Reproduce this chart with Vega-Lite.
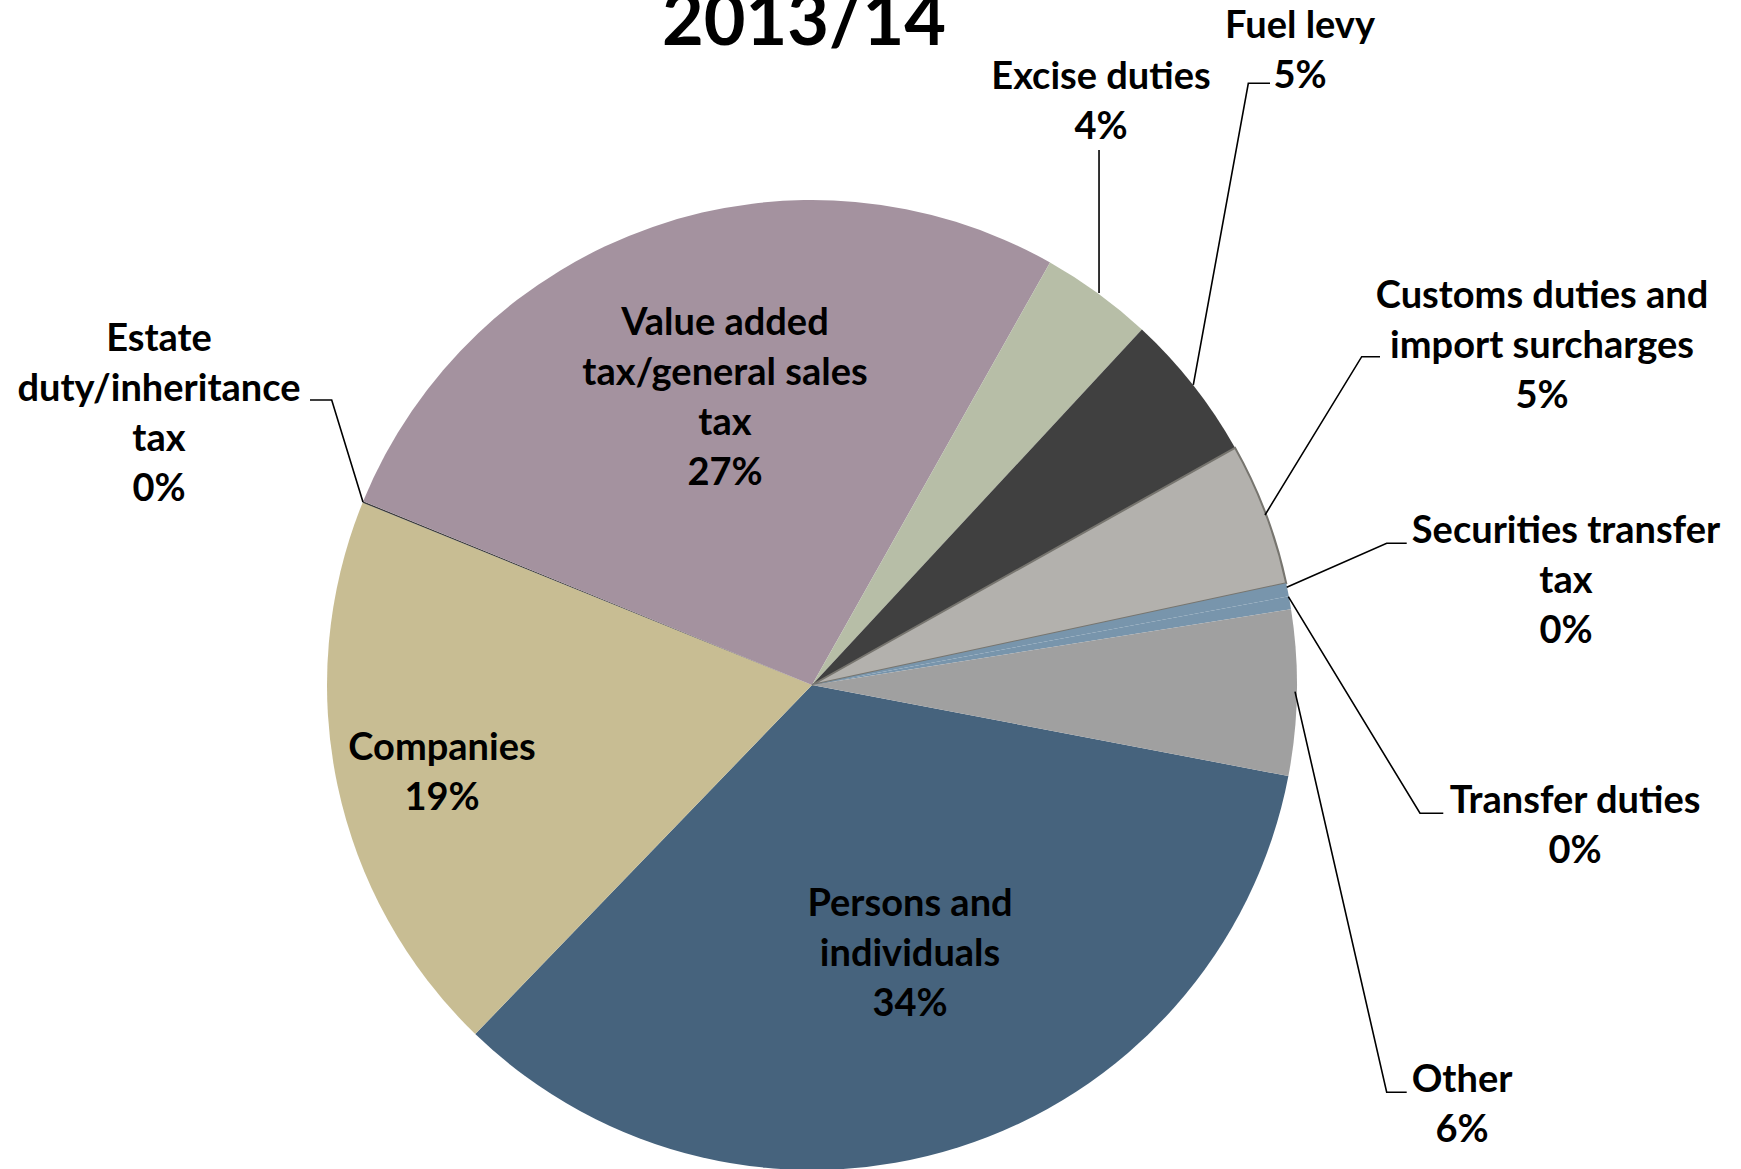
{
  "$schema": "https://vega.github.io/schema/vega-lite/v6.json",
  "width": 1624,
  "height": 968,
  "autosize": {"type": "none"},
  "padding": {"left": 0, "top": 201, "right": 117, "bottom": 0},
  "background": "white",
  "config": {"view": {"stroke": null}},
  "datasets": {
    "slices": [
      {"order": 1, "category": "Persons and individuals", "share": 34.21},
      {"order": 2, "category": "Companies", "share": 18.92},
      {"order": 3, "category": "Estate duty/inheritance tax", "share": 0.05},
      {"order": 4, "category": "Value added tax/general sales tax", "share": 26.98},
      {"order": 5, "category": "Excise duties", "share": 3.74},
      {"order": 6, "category": "Fuel levy", "share": 4.96},
      {"order": 7, "category": "Customs duties and import surcharges", "share": 4.77},
      {"order": 8, "category": "Securities transfer tax", "share": 0.44},
      {"order": 9, "category": "Transfer duties", "share": 0.43},
      {"order": 10, "category": "Other", "share": 5.5}
    ],
    "leaders": [
      {"id": "Fuel levy", "i": 1, "ux": 0.7862, "uy": 0.6186},
      {"id": "Fuel levy", "i": 2, "ux": 0.8996, "uy": 1.2406},
      {"id": "Fuel levy", "i": 3, "ux": 0.9443, "uy": 1.2406},
      {"id": "Excise duties", "i": 1, "ux": 0.5918, "uy": 0.8082},
      {"id": "Excise duties", "i": 2, "ux": 0.5918, "uy": 1.1031},
      {"id": "Customs", "i": 1, "ux": 0.934, "uy": 0.3505},
      {"id": "Customs", "i": 2, "ux": 1.1334, "uy": 0.6769},
      {"id": "Customs", "i": 3, "ux": 1.1711, "uy": 0.6769},
      {"id": "Securities", "i": 1, "ux": 0.9788, "uy": 0.2014},
      {"id": "Securities", "i": 2, "ux": 1.1849, "uy": 0.2922},
      {"id": "Securities", "i": 3, "ux": 1.2262, "uy": 0.2922},
      {"id": "Transfer", "i": 1, "ux": 0.9821, "uy": 0.1821},
      {"id": "Transfer", "i": 2, "ux": 1.2536, "uy": -0.2645},
      {"id": "Transfer", "i": 3, "ux": 1.3016, "uy": -0.2645},
      {"id": "Other", "i": 1, "ux": 0.9959, "uy": -0.0138},
      {"id": "Other", "i": 2, "ux": 1.1849, "uy": -0.8398},
      {"id": "Other", "i": 3, "ux": 1.2262, "uy": -0.8398},
      {"id": "Estate", "i": 1, "ux": -0.9258, "uy": 0.3773},
      {"id": "Estate", "i": 2, "ux": -0.9903, "uy": 0.5876},
      {"id": "Estate", "i": 3, "ux": -1.0351, "uy": 0.5876}
    ],
    "labels": [
      {"label": "Fuel levy\n5%", "ux": 1.0062, "uy": 1.334},
      {"label": "Excise duties\n4%", "ux": 0.5959, "uy": 1.2289},
      {"label": "Customs duties and\nimport surcharges\n5%", "ux": 1.5052, "uy": 0.7773},
      {"label": "Securities transfer\ntax\n0%", "ux": 1.5546, "uy": 0.2928},
      {"label": "Transfer duties\n0%", "ux": 1.5732, "uy": -0.2639},
      {"label": "Other\n6%", "ux": 1.3402, "uy": -0.8392},
      {"label": "Estate\nduty/inheritance\ntax\n0%", "ux": -1.3464, "uy": 0.6887},
      {"label": "Value added\ntax/general sales\ntax\n27%", "ux": -0.1794, "uy": 0.7216},
      {"label": "Companies\n19%", "ux": -0.7629, "uy": -0.1546},
      {"label": "Persons and\nindividuals\n34%", "ux": 0.2021, "uy": -0.4763}
    ],
    "heading": [
      {"title": "2013/14", "ux": -0.0165, "uy": 1.3196}
    ]
  },
  "layer": [
    {
      "data": {"name": "slices"},
      "mark": {"type": "arc", "outerRadius": 485, "stroke": "#77756F"},
      "encoding": {
        "theta": {"field": "share", "type": "quantitative", "stack": true, "scale": {"range": [1.7596, 8.0428]}},
        "order": {"field": "order", "type": "quantitative"},
        "color": {
          "field": "category",
          "type": "nominal",
          "legend": null,
          "scale": {
            "domain": ["Persons and individuals", "Companies", "Estate duty/inheritance tax", "Value added tax/general sales tax", "Excise duties", "Fuel levy", "Customs duties and import surcharges", "Securities transfer tax", "Transfer duties", "Other"],
            "range": ["#46637D", "#C8BD93", "#3C3C3C", "#A4929F", "#B7BEA7", "#404040", "#B3B1AD", "#7895AC", "#7895AC", "#A0A0A0"]
          }
        },
        "strokeWidth": {
          "condition": {"test": "datum.category === 'Customs duties and import surcharges'", "value": 2},
          "value": 0
        }
      }
    },
    {
      "data": {"name": "leaders"},
      "mark": {"type": "line", "color": "#000000", "strokeWidth": 1.6},
      "encoding": {
        "x": {"field": "ux", "type": "quantitative", "axis": null, "scale": {"domain": [-1.6742, 1.6742], "zero": false, "nice": false}},
        "y": {"field": "uy", "type": "quantitative", "axis": null, "scale": {"domain": [-0.99794, 0.99794], "zero": false, "nice": false}},
        "detail": {"field": "id", "type": "nominal"},
        "order": {"field": "i", "type": "quantitative"}
      }
    },
    {
      "data": {"name": "labels"},
      "mark": {"type": "text", "font": "Lato", "fontWeight": "bold", "fontSize": 38, "lineHeight": 50, "lineBreak": "\n", "align": "center", "baseline": "alphabetic", "color": "#000000"},
      "encoding": {
        "x": {"field": "ux", "type": "quantitative", "axis": null},
        "y": {"field": "uy", "type": "quantitative", "axis": null},
        "text": {"field": "label", "type": "nominal"}
      }
    },
    {
      "data": {"name": "heading"},
      "mark": {"type": "text", "font": "Lato", "fontWeight": "bold", "fontSize": 72, "align": "center", "baseline": "alphabetic", "color": "#000000"},
      "encoding": {
        "x": {"field": "ux", "type": "quantitative", "axis": null},
        "y": {"field": "uy", "type": "quantitative", "axis": null},
        "text": {"field": "title", "type": "nominal"}
      }
    }
  ]
}
